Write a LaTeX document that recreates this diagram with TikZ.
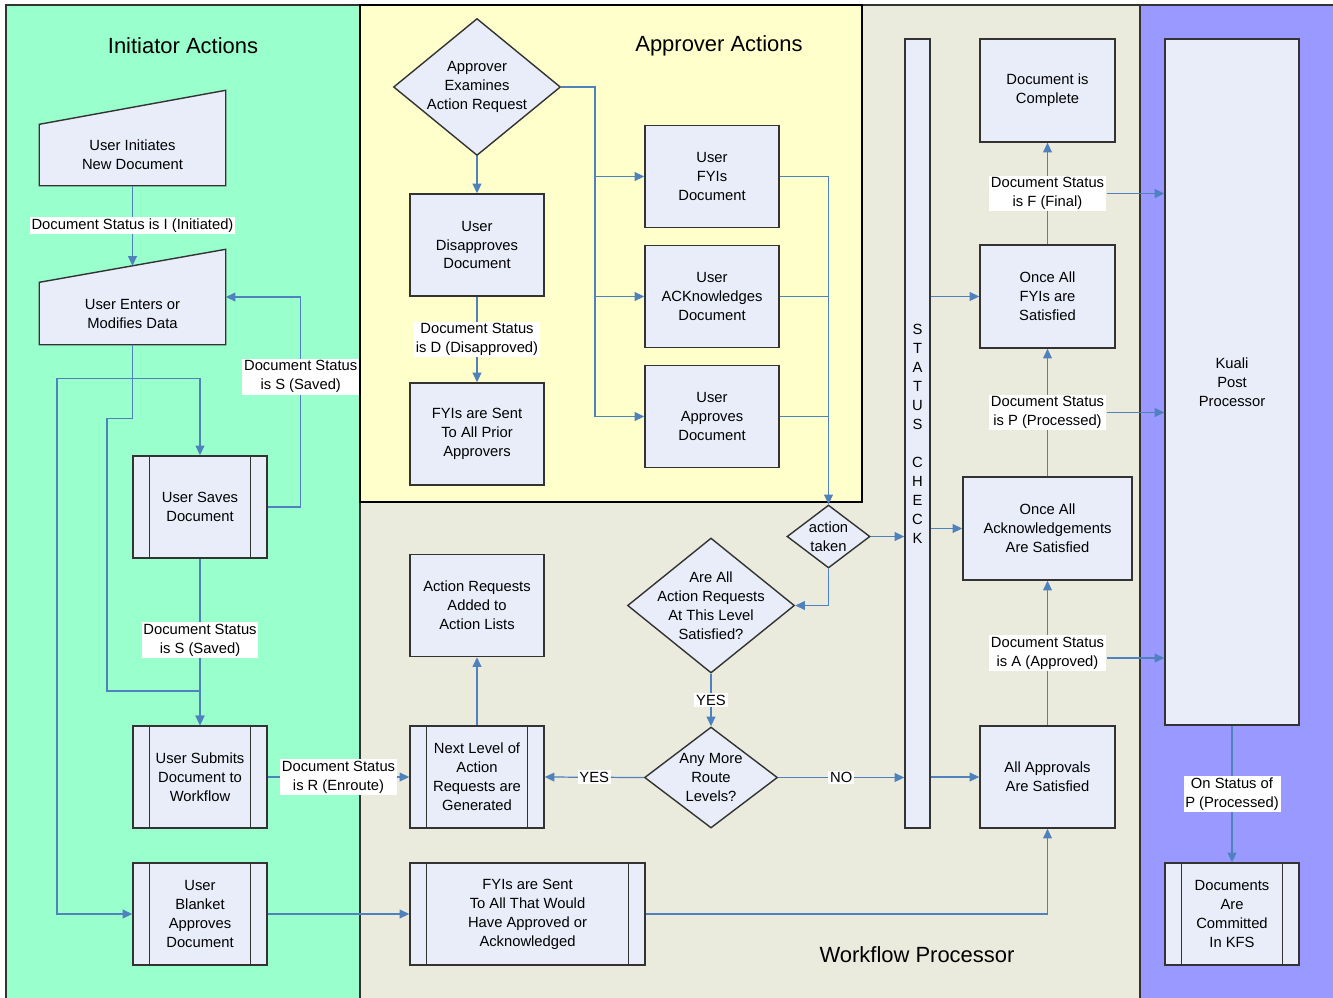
\documentclass[tikz,border=0pt]{standalone}
\usepackage{fontspec}
\setmainfont{Liberation Sans}
\usepackage{tikz}
\usetikzlibrary{shapes.geometric, arrows.meta}
\definecolor{initgreen}{RGB}{153,255,204}
\definecolor{apyellow}{RGB}{255,255,204}
\definecolor{wfgray}{RGB}{235,235,221}
\definecolor{postpurple}{RGB}{153,153,255}
\definecolor{boxfill}{RGB}{232,237,249}
\definecolor{boxline}{RGB}{51,51,51}
\definecolor{flowblue}{RGB}{79,129,189}
\tikzstyle{lane} = [draw=boxline, line width=0.8pt]
\tikzstyle{box} = [draw=boxline, fill=boxfill, line width=0.8pt, align=center, inner sep=1pt, minimum width=26.8mm, minimum height=20.4mm]
\tikzstyle{decision} = [diamond, draw=boxline, fill=boxfill, line width=0.8pt, inner sep=0pt]
\tikzstyle{txt} = [align=center]
\tikzstyle{status} = [fill=white, inner sep=1pt, align=center]
\tikzstyle{flow} = [draw=flowblue, line width=0.7pt]
\tikzstyle{arrow} = [flow, -{Triangle[length=5.5pt, width=5pt]}]
\tikzstyle{title} = [font=\fontsize{12.5}{15}\selectfont]

\begin{document}
\begin{tikzpicture}[x=0.2mm, y=-0.2mm, font=\fontsize{8.4}{10.8}\selectfont]
    \useasboundingbox (0,0) rectangle (1333,997);

    % Swim lanes
    \draw[lane, fill=initgreen] (6,5) rectangle (360,1010);
    \draw[lane, fill=wfgray] (360,5) rectangle (1140,1010);
    \draw[lane, fill=postpurple] (1140,5) rectangle (1345,1010);
    \draw[lane, draw=black, fill=apyellow] (360,5) rectangle (862,502);

    % Lane titles
    \node[title] (initttl) at (183,46) {Initiator Actions};
    \node[title] (apprttl) at (719,46) {Approver Actions};
    \node[title] (wfttl) at (917,955) {Workflow Processor};

    % Initiator nodes
    \node[box, draw=none, minimum width=37mm, minimum height=12mm] (init) at (132.5,155) {User Initiates\\New Document};
    \fill[boxfill] ([yshift=-0.4mm]init.north west) -- (init.north west) -- ([yshift=6.8mm]init.north east) -- ([yshift=-0.4mm]init.north east) -- cycle;
    \draw[boxline, line width=0.8pt] (init.south west) -- (init.north west) -- ([yshift=6.8mm]init.north east) -- (init.south east) -- cycle;
    \node[box, draw=none, minimum width=37mm, minimum height=12.2mm] (enters) at (132.5,313.5) {User Enters or\\Modifies Data};
    \fill[boxfill] ([yshift=-0.4mm]enters.north west) -- (enters.north west) -- ([yshift=6.6mm]enters.north east) -- ([yshift=-0.4mm]enters.north east) -- cycle;
    \draw[boxline, line width=0.8pt] (enters.south west) -- (enters.north west) -- ([yshift=6.6mm]enters.north east) -- (enters.south east) -- cycle;
    \path (enters.north west) -- ([yshift=6.6mm]enters.north east) coordinate[pos=0.5] (enterstop);
    \node[box] (saves) at (200,507) {User Saves\\Document};
    \node[box] (submits) at (200,777) {User Submits\\Document to\\Workflow};
    \node[box] (blanket) at (200,914) {User\\Blanket\\Approves\\Document};

    % Approver nodes
    \node[decision, minimum width=33.4mm, minimum height=27.4mm, label={[txt]center:{Approver\\Examines\\Action Request}}] (approver) at (477,87) {};
    \node[box] (disapp) at (477,245) {User\\Disapproves\\Document};
    \node[box] (fyiprior) at (477,434) {FYIs are Sent\\To All Prior\\Approvers};
    \node[box] (fyidoc) at (712,176.5) {User\\FYIs\\Document};
    \node[box] (ackdoc) at (712,296.5) {User\\ACKnowledges\\Document};
    \node[box] (appdoc) at (712,416.5) {User\\Approves\\Document};

    % Workflow processor nodes
    \node[decision, minimum width=16.6mm, minimum height=12.6mm, label={[txt]center:{action\\taken}}] (taken) at (828.5,536.5) {};
    \node[decision, minimum width=33.4mm, minimum height=27mm, label={[txt]center:{Are All\\Action Requests\\At This Level\\Satisfied?}}] (areall) at (711,605.5) {};
    \node[decision, minimum width=26.6mm, minimum height=20.2mm, label={[txt]center:{Any More\\Route\\Levels?}}] (anymore) at (711,777.5) {};
    \node[box] (added) at (477,605.5) {Action Requests\\Added to\\Action Lists};
    \node[box] (nextlvl) at (477,777) {Next Level of\\Action\\Requests are\\Generated};
    \node[box, minimum width=47mm] (fyiall) at (527.5,914) {FYIs are Sent\\To All That Would\\Have Approved or\\Acknowledged};
    \node[box, minimum width=5mm, minimum height=157.8mm, inner sep=0pt] (status) at (917.5,433.5) {S\\T\\A\\T\\U\\S\\[10.8pt]C\\H\\E\\C\\K};
    \node[box, minimum width=27mm, minimum height=20.6mm] (complete) at (1047.5,90.5) {Document is\\Complete};
    \node[box, minimum width=27mm, minimum height=20.6mm] (oncefyi) at (1047.5,296.5) {Once All\\FYIs are\\Satisfied};
    \node[box, minimum width=33.8mm, minimum height=20.6mm] (onceack) at (1047.5,528.5) {Once All\\Acknowledgements\\Are Satisfied};
    \node[box, minimum width=27mm] (allappr) at (1047.5,777) {All Approvals\\Are Satisfied};

    % Post processor nodes
    \node[box, minimum height=137.2mm] (kuali) at (1232,382) {Kuali\\Post\\Processor};
    \node[box] (commit) at (1232,914) {Documents\\Are\\Committed\\In KFS};

    % Side bars of predefined processes
    \foreach \n in {saves, submits, blanket, nextlvl, fyiall, commit} {
        \draw[boxline, line width=0.8pt] ([xshift=3.4mm]\n.north west) -- ([xshift=3.4mm]\n.south west);
        \draw[boxline, line width=0.8pt] ([xshift=-3.4mm]\n.north east) -- ([xshift=-3.4mm]\n.south east);
    }

    % Initiator edges
    \draw[arrow] (init.south) -- node[status] {Document Status is I (Initiated)} (enterstop);
    \draw[arrow] (enters.south) -- ++(0,34) -| (saves.north);
    \draw[arrow] (enters.south) -- ++(0,34) -| (57,600) |- (blanket.west);
    \draw[arrow] (enters.south) -- ++(0,74) -| (107,691) -| (submits.north);
    \draw[arrow] (saves.east) -- ++(33,0) |- node[status, pos=0.31] {Document Status\\is S (Saved)} ([yshift=3.3mm]enters.east);
    \draw[arrow] (saves.south) -- node[status, pos=0.49] {Document Status\\is S (Saved)} (submits.north);
    \draw[arrow] (submits.east) -- node[status] {Document Status\\is R (Enroute)} (nextlvl.west);
    \draw[arrow] (blanket.east) -- (fyiall.west);

    % Approver edges
    \draw[arrow] (approver.south) -- (disapp.north);
    \draw[arrow] (disapp.south) -- node[status] {Document Status\\is D (Disapproved)} (fyiprior.north);
    \draw[arrow] (approver.east) -- (595,87) |- (fyidoc.west);
    \draw[arrow] (approver.east) -- (595,87) |- (ackdoc.west);
    \draw[arrow] (approver.east) -- (595,87) |- (appdoc.west);
    \draw[arrow] (fyidoc.east) -| (taken.north);
    \draw[flow] (ackdoc.east) -- (ackdoc.east -| taken.north);
    \draw[flow] (appdoc.east) -- (appdoc.east -| taken.north);

    % Workflow edges
    \draw[arrow] (taken.south) |- (areall.east);
    \draw[arrow] (taken.east) -- (taken.east -| status.west);
    \draw[arrow] (areall.south) -- node[status] {YES} (anymore.north);
    \draw[arrow] (anymore.west) -- node[status] {YES} (nextlvl.east);
    \draw[arrow] (anymore.east) -- node[status] {NO} (anymore.east -| status.west);
    \draw[arrow] (nextlvl.north) -- (added.south);
    \draw[arrow] (fyiall.east) -| (allappr.south);
    \draw[arrow] (oncefyi.west -| status.east) -- (oncefyi.west);
    \draw[arrow] (onceack.west -| status.east) -- (onceack.west);
    \draw[arrow] (allappr.west -| status.east) -- (allappr.west);
    \draw[arrow] (allappr.north) -- node[status] (lblA) {Document Status\\is A (Approved)} (onceack.south);
    \draw[arrow] (onceack.north) -- node[status] (lblP) {Document Status\\is P (Processed)} (oncefyi.south);
    \draw[arrow] (oncefyi.north) -- node[status] (lblF) {Document Status\\is F (Final)} (complete.south);

    % Post processor edges
    \draw[arrow] (lblF.east) -- (lblF.east -| kuali.west);
    \draw[arrow] (lblP.east) -- (lblP.east -| kuali.west);
    \draw[arrow] ([yshift=-1mm]lblA.east) -- ([yshift=-1mm]lblA.east -| kuali.west);
    \draw[arrow] (kuali.south) -- node[status] {On Status of\\P (Processed)} (commit.north);
\end{tikzpicture}
\end{document}
